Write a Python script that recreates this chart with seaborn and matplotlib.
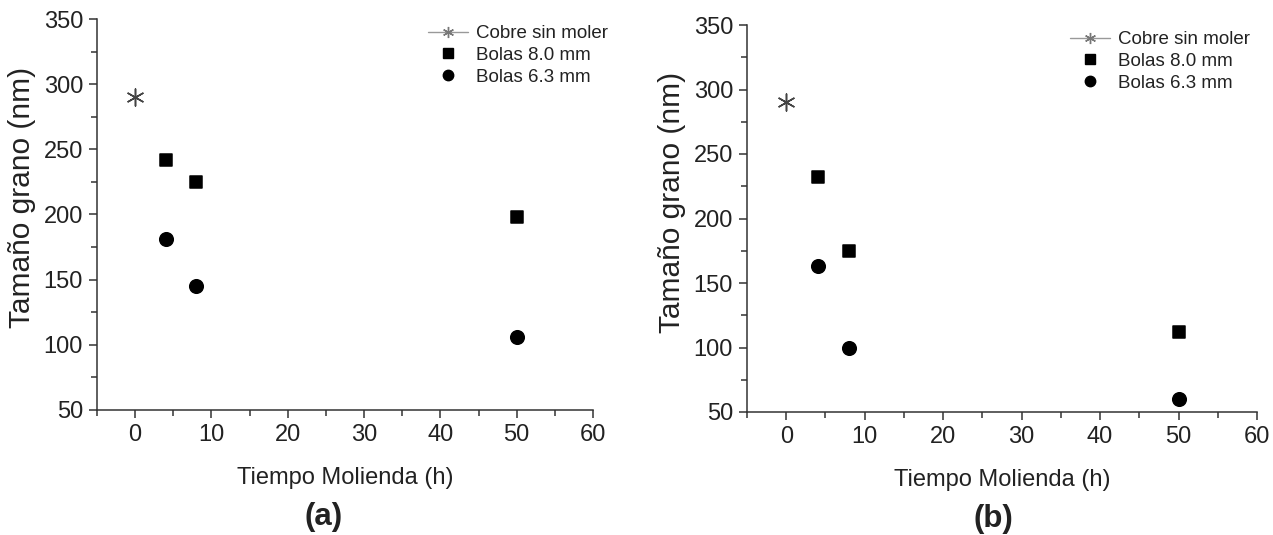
import matplotlib
matplotlib.use("Agg")
import matplotlib.pyplot as plt
from matplotlib.lines import Line2D
from matplotlib.ticker import MultipleLocator
import seaborn as sns
import pandas as pd

# Data
series_names = ["Cobre sin moler", "Bolas 8.0 mm", "Bolas 6.3 mm"]
t_star = [0]
a_star = [290]
b_star = [290]
t_balls = [4, 8, 50]
a_8mm = [242, 225, 198]
a_63mm = [181, 145, 106]
b_8mm = [232, 175, 112]
b_63mm = [163, 100, 60]
panel_labels = ["(a)", "(b)"]

sns.set_theme(style="ticks")
plt.rcParams['font.family'] = ['Liberation Sans', 'DejaVu Sans']

W, H = 1273, 535
fig = plt.figure(figsize=(W / 100, H / 100), dpi=100)
axA = fig.add_axes([97 / W, 1 - 410 / H, (593 - 97) / W, (410 - 19) / H])
axB = fig.add_axes([747 / W, 1 - 412 / H, (1257 - 747) / W, (412 - 25) / H])

def make_df(star, s8, s63):
    rows = []
    for t, v in zip(t_star, star):
        rows.append((t, v, series_names[0]))
    for t, v in zip(t_balls, s8):
        rows.append((t, v, series_names[1]))
    for t, v in zip(t_balls, s63):
        rows.append((t, v, series_names[2]))
    return pd.DataFrame(rows, columns=["t", "size", "serie"])

markers = {series_names[0]: (6, 2, 0), series_names[1]: "s", series_names[2]: "o"}
sizes_map = {series_names[0]: 150, series_names[1]: 75, series_names[2]: 95}
colors = {series_names[0]: "#444444", series_names[1]: "black", series_names[2]: "black"}

TXT = "#222222"
AX = "#333333"

configs = [
    (axA, a_star, a_8mm, a_63mm, panel_labels[0], (428, 25), (324, 517), (22, 197)),
    (axB, b_star, b_8mm, b_63mm, panel_labels[1], (1070, 31), (993, 519), (672, 202)),
]

for ax, star, s8, s63, lab, legpos, labpos, ylabpos in configs:
    df = make_df(star, s8, s63)
    for name in series_names:
        sub = df[df["serie"] == name]
        sns.scatterplot(data=sub, x="t", y="size", marker=markers[name], s=sizes_map[name],
                        color=colors[name], edgecolor=colors[name], linewidth=1.1,
                        ax=ax, legend=False)
    ax.set_xlim(-5, 60)
    ax.set_ylim(50, 350)
    ax.xaxis.set_major_locator(MultipleLocator(10))
    ax.xaxis.set_minor_locator(MultipleLocator(5))
    ax.yaxis.set_major_locator(MultipleLocator(50))
    ax.yaxis.set_minor_locator(MultipleLocator(25))
    for s in ["top", "right"]:
        ax.spines[s].set_visible(False)
    for s in ["left", "bottom"]:
        ax.spines[s].set_color(AX)
        ax.spines[s].set_linewidth(1.1)
    ax.tick_params(axis="both", which="major", length=6, width=1.1, color=AX,
                   labelsize=17, labelcolor=TXT, direction="out", pad=4)
    ax.tick_params(axis="both", which="minor", length=4, width=1.1, color=AX, direction="out")
    ax.set_xlabel("Tiempo Molienda (h)", fontsize=17, color=TXT, labelpad=15)
    ax.set_ylabel("Tamaño grano (nm)", fontsize=21.5, color=TXT, va="center")
    ax.yaxis.set_label_coords(ylabpos[0] / W, 1 - ylabpos[1] / H, transform=fig.transFigure)
    fig.text(labpos[0] / W, 1 - labpos[1] / H, lab, ha="center", va="center",
             fontsize=22.5, fontweight="bold", color=TXT)
    handles = [
        Line2D([], [], color="#999999", linewidth=1.0, marker=(6, 2, 0), markersize=8,
               markeredgecolor="#777777", markeredgewidth=1.0),
        Line2D([], [], linestyle="none", marker="s", markersize=7, color="black"),
        Line2D([], [], linestyle="none", marker="o", markersize=7.5, color="black"),
    ]
    ax.legend(handles, series_names, loc="upper left",
              bbox_to_anchor=(legpos[0] / W, 1 - legpos[1] / H),
              bbox_transform=fig.transFigure,
              frameon=False, fontsize=13.5, handlelength=2.15, handletextpad=0.4,
              labelspacing=0.25, borderpad=0, borderaxespad=0, labelcolor=TXT)

fig.savefig("out.png", dpi=100)
